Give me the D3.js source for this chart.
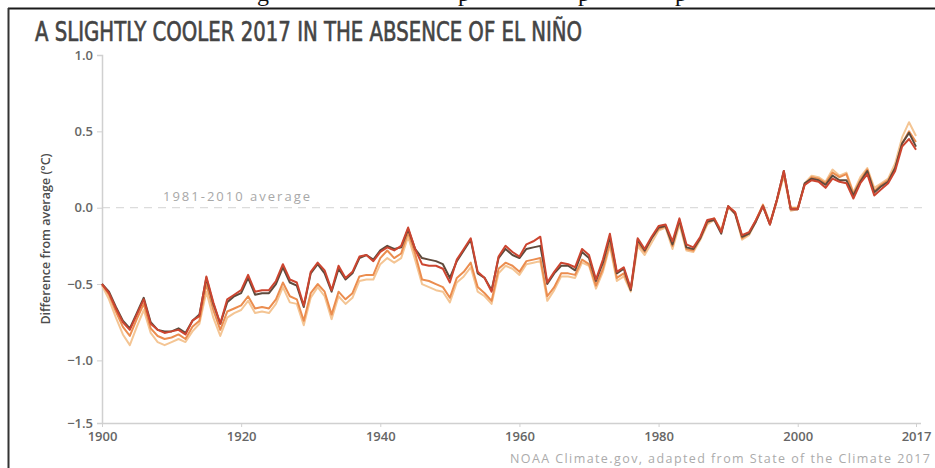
<!DOCTYPE html>
<html>
<head>
<meta charset="utf-8">
<script src="https://cdn.jsdelivr.net/npm/d3@7"></script>
<style>
  body { margin: 0; background: #fff; }
  svg { display: block; }
</style>
</head>
<body>
<div id="chart"></div>
<script>
// years 1900..2017, anomalies vs 1981-2010 (°C)
var years = d3.range(1900, 2018);

var redSeries = [
 -0.50,-0.56,-0.66,-0.75,-0.80,-0.70,-0.60,-0.76,-0.80,-0.82,
 -0.81,-0.80,-0.83,-0.74,-0.71,-0.45,-0.62,-0.76,-0.60,-0.57,
 -0.54,-0.44,-0.55,-0.54,-0.54,-0.48,-0.37,-0.47,-0.49,-0.64,
 -0.42,-0.36,-0.41,-0.54,-0.38,-0.46,-0.42,-0.32,-0.31,-0.35,
 -0.29,-0.26,-0.28,-0.25,-0.13,-0.27,-0.37,-0.38,-0.38,-0.40,
 -0.49,-0.34,-0.27,-0.20,-0.42,-0.46,-0.55,-0.32,-0.25,-0.29,
 -0.32,-0.24,-0.22,-0.19,-0.49,-0.42,-0.36,-0.37,-0.39,-0.27,
 -0.31,-0.47,-0.34,-0.17,-0.42,-0.39,-0.53,-0.20,-0.27,-0.19,
 -0.12,-0.11,-0.22,-0.07,-0.24,-0.26,-0.19,-0.08,-0.07,-0.16,
  0.01,-0.03,-0.18,-0.16,-0.08, 0.01,-0.11, 0.05, 0.24,-0.01,
 -0.01, 0.15, 0.18, 0.17, 0.13, 0.19, 0.17, 0.16, 0.06, 0.16,
  0.22, 0.08, 0.12, 0.16, 0.24, 0.40, 0.45, 0.38
];

var darkSeries = [
 -0.50,-0.55,-0.65,-0.74,-0.79,-0.69,-0.59,-0.75,-0.80,-0.81,
 -0.81,-0.79,-0.82,-0.74,-0.70,-0.46,-0.63,-0.76,-0.62,-0.58,
 -0.56,-0.46,-0.57,-0.56,-0.56,-0.50,-0.39,-0.49,-0.51,-0.65,
 -0.43,-0.37,-0.43,-0.55,-0.40,-0.47,-0.43,-0.33,-0.31,-0.34,
 -0.28,-0.25,-0.27,-0.26,-0.14,-0.27,-0.33,-0.34,-0.35,-0.37,
 -0.46,-0.35,-0.28,-0.21,-0.43,-0.46,-0.54,-0.33,-0.27,-0.31,
 -0.33,-0.27,-0.26,-0.25,-0.50,-0.43,-0.38,-0.38,-0.41,-0.29,
 -0.33,-0.48,-0.36,-0.19,-0.43,-0.40,-0.54,-0.21,-0.28,-0.20,
 -0.13,-0.12,-0.24,-0.08,-0.26,-0.27,-0.20,-0.09,-0.08,-0.17,
  0.01,-0.04,-0.19,-0.17,-0.09, 0.01,-0.11, 0.05, 0.24,-0.01,
 -0.01, 0.16, 0.19, 0.18, 0.15, 0.21, 0.18, 0.18, 0.08, 0.17,
  0.24, 0.10, 0.14, 0.17, 0.26, 0.42, 0.49, 0.40
];

var orangeSeries = [
 -0.50,-0.57,-0.68,-0.78,-0.84,-0.73,-0.63,-0.79,-0.84,-0.86,
 -0.85,-0.83,-0.86,-0.78,-0.74,-0.50,-0.67,-0.80,-0.68,-0.66,
 -0.64,-0.58,-0.66,-0.65,-0.66,-0.60,-0.49,-0.58,-0.60,-0.74,
 -0.56,-0.50,-0.55,-0.70,-0.55,-0.60,-0.56,-0.45,-0.44,-0.44,
 -0.33,-0.28,-0.33,-0.30,-0.16,-0.30,-0.47,-0.48,-0.50,-0.52,
 -0.59,-0.46,-0.42,-0.36,-0.52,-0.56,-0.61,-0.40,-0.36,-0.38,
 -0.42,-0.35,-0.34,-0.33,-0.58,-0.52,-0.43,-0.43,-0.44,-0.34,
 -0.37,-0.51,-0.40,-0.23,-0.46,-0.43,-0.54,-0.23,-0.29,-0.20,
 -0.14,-0.12,-0.25,-0.09,-0.27,-0.28,-0.20,-0.10,-0.07,-0.15,
  0.01,-0.03,-0.20,-0.17,-0.08, 0.02,-0.10, 0.05, 0.22, 0.00,
  0.00, 0.15, 0.20, 0.19, 0.16, 0.23, 0.20, 0.22, 0.09, 0.18,
  0.25, 0.11, 0.15, 0.18, 0.26, 0.42, 0.50, 0.43
];

var paleSeries = [
 -0.51,-0.60,-0.72,-0.83,-0.90,-0.78,-0.67,-0.82,-0.88,-0.90,
 -0.88,-0.86,-0.88,-0.81,-0.76,-0.55,-0.72,-0.84,-0.72,-0.69,
 -0.67,-0.61,-0.69,-0.68,-0.69,-0.63,-0.52,-0.62,-0.63,-0.77,
 -0.59,-0.52,-0.58,-0.73,-0.58,-0.63,-0.59,-0.48,-0.47,-0.47,
 -0.37,-0.33,-0.36,-0.33,-0.19,-0.34,-0.50,-0.52,-0.54,-0.55,
 -0.62,-0.49,-0.45,-0.39,-0.55,-0.58,-0.63,-0.43,-0.38,-0.40,
 -0.44,-0.37,-0.36,-0.35,-0.61,-0.54,-0.45,-0.45,-0.46,-0.36,
 -0.38,-0.53,-0.42,-0.25,-0.48,-0.45,-0.55,-0.25,-0.31,-0.23,
 -0.15,-0.13,-0.27,-0.11,-0.28,-0.29,-0.21,-0.11,-0.08,-0.16,
  0.00,-0.04,-0.21,-0.18,-0.09, 0.01,-0.11, 0.04, 0.21,-0.02,
 -0.01, 0.16, 0.21, 0.20, 0.17, 0.25, 0.21, 0.23, 0.10, 0.20,
  0.26, 0.13, 0.16, 0.19, 0.29, 0.46, 0.56, 0.47
];

var xTickYears = [1900, 1920, 1940, 1960, 1980, 2000, 2017];
var yTickValues = [1, 0.5, 0, -0.5, -1, -1.41];
var yTickLabels = ["1.0", "0.5", "0.0", "\u22120.5", "\u22121.0", "\u22121.5"];

var width = 935, height = 468;

var svg = d3.select("#chart")
    .append("svg")
    .attr("width", width)
    .attr("height", height);

svg.append("rect").attr("width", width).attr("height", height).attr("fill", "#fff");

// bits of the caption line above the frame (only descenders show)
var capLetters = [{t: "g", x: 257}, {t: "p", x: 458}, {t: "p", x: 578}, {t: "p", x: 675}];
svg.selectAll(".cap")
    .data(capLetters)
    .join("text")
    .attr("class", "cap")
    .attr("x", d => d.x)
    .attr("y", 1)
    .style("font", "24px 'Liberation Serif', serif")
    .style("fill", "#111")
    .text(d => d.t);

// frame
svg.append("line").attr("x1", 8).attr("x2", width).attr("y1", 8.5).attr("y2", 8.5)
    .attr("stroke", "#1a1a1a").attr("stroke-width", 2);
svg.append("line").attr("x1", 8.5).attr("x2", 8.5).attr("y1", 8).attr("y2", height)
    .attr("stroke", "#333").attr("stroke-width", 2);

var x = d3.scaleLinear().domain([1900, 2017]).range([102, 916]);
var y = d3.scaleLinear().domain([-1.41, 1.0]).range([423, 55]);

// title
svg.append("text")
    .attr("x", 35)
    .attr("y", 41)
    .attr("textLength", 547)
    .attr("lengthAdjust", "spacingAndGlyphs")
    .style("font", "26px 'Liberation Sans Narrow', 'DejaVu Sans Condensed', sans-serif")
    .style("fill", "#444")
    .style("stroke", "#444")
    .style("stroke-width", 0.6)
    .text("A SLIGHTLY COOLER 2017 IN THE ABSENCE OF EL NIÑO");

// zero (1981-2010 average) reference
svg.append("line")
    .attr("x1", x(1900)).attr("x2", 925)
    .attr("y1", y(0)).attr("y2", y(0))
    .attr("stroke", "#dcdcdc")
    .attr("stroke-width", 1.2)
    .attr("stroke-dasharray", "8,6");

svg.append("text")
    .attr("x", 163)
    .attr("y", 201)
    .attr("textLength", 147)
    .style("font", "13px 'Open Sans', sans-serif")
    .style("fill", "#a8a8a8")
    .text("1981-2010 average");

// axes
var yAxis = d3.axisLeft(y)
    .tickValues(yTickValues)
    .tickFormat((d, i) => yTickLabels[i])
    .tickSize(5)
    .tickPadding(4);

var gy = svg.append("g")
    .attr("transform", `translate(${x(1900)},0)`)
    .call(yAxis);

var xAxis = d3.axisBottom(x)
    .tickValues(xTickYears)
    .tickFormat(d3.format("d"))
    .tickSize(4)
    .tickPadding(5);

var gx = svg.append("g")
    .attr("transform", `translate(0,${y(-1.41)})`)
    .call(xAxis);

gx.select(".domain").attr("d", `M${x(1900)},0.5H921`);

[gx, gy].forEach(g => {
    g.select(".domain").attr("stroke", "#d0d0d0").attr("stroke-width", 1.5);
    g.selectAll(".tick line").attr("stroke", "#d0d0d0");
    g.selectAll(".tick text")
        .style("font", "600 13px 'Open Sans', sans-serif")
        .style("fill", "#666");
});

svg.append("text")
    .attr("transform", `translate(50,${239}) rotate(-90)`)
    .attr("text-anchor", "middle")
    .style("font", "600 12.5px 'Open Sans', sans-serif")
    .style("fill", "#4d4d4d")
    .text("Difference from average (\u00b0C)");

// lines
var line = d3.line()
    .x((d, i) => x(years[i]))
    .y(d => y(d));

var series = [
    {values: paleSeries, color: "#f4c594"},
    {values: orangeSeries, color: "#eb8d4f"},
    {values: darkSeries, color: "#5e4a3c"},
    {values: redSeries, color: "#cc4530"}
];

svg.append("g")
    .selectAll("path")
    .data(series)
    .join("path")
    .attr("d", d => line(d.values))
    .attr("fill", "none")
    .attr("stroke", d => d.color)
    .attr("stroke-width", 2)
    .attr("stroke-linejoin", "round");

// source
svg.append("text")
    .attr("x", 930)
    .attr("y", 463)
    .attr("text-anchor", "end")
    .attr("textLength", 420)
    .style("font", "12.5px 'Open Sans', sans-serif")
    .style("fill", "#ababab")
    .text("NOAA Climate.gov, adapted from State of the Climate 2017");
</script>
</body>
</html>
